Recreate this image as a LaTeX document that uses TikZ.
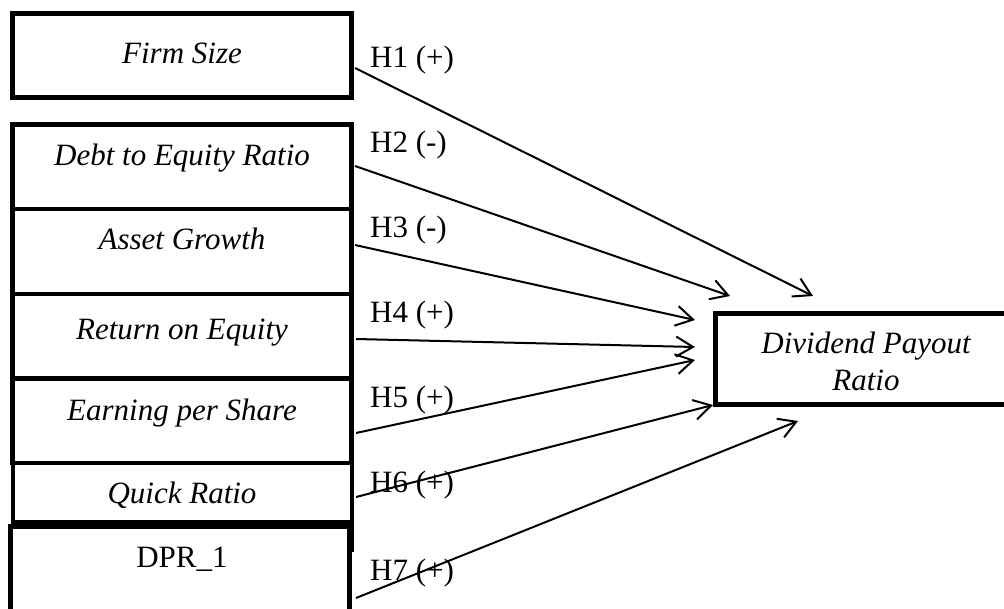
\documentclass[tikz,border=0pt]{standalone}
\usepackage{fontspec}
\setmainfont{Liberation Serif}
\usetikzlibrary{arrows.meta}

\tikzset{
  box/.style={draw=black, line width=4.5pt, fill=white},
  boxtext/.style={anchor=base, inner sep=0pt, font=\fontsize{31}{37}\selectfont\itshape},
  plaintext/.style={anchor=base, inner sep=0pt, font=\fontsize{31}{37}\selectfont},
  hyp/.style={anchor=base west, inner sep=0pt, font=\fontsize{31}{37}\selectfont},
  link/.style={draw=black, line width=2pt, -{Straight Barb[length=17pt,width=20pt,line width=2pt]}}
}

\begin{document}
\begin{tikzpicture}[x=1pt,y=-1pt]
  \useasboundingbox (0,0) rectangle (1004,608);
  \clip (0,0) rectangle (1004,608);

  % independent variables
  \draw[box] (12.3,13.3) rectangle (351.7,97.7);
  \draw[box] (12.3,124.3) rectangle (351.7,209);
  \draw[box] (12.3,209) rectangle (351.7,294);
  \draw[box] (12.3,294) rectangle (351.7,378.5);
  \draw[box] (12.3,378.5) rectangle (351.7,463);
  \draw[box] (12.8,463) rectangle (351.8,522.5);
  \draw[black, line width=4.5pt] (351.8,520) -- (351.8,552);
  \draw[box] (10.5,526.5) rectangle (349.5,650);

  % dependent variable
  \draw[box] (715.5,313.5) rectangle (1030,404.5);

  \node[boxtext] (fs)  at (182,63)  {Firm Size};
  \node[boxtext] (der) at (182,165) {Debt to Equity Ratio};
  \node[boxtext] (ag)  at (182,249) {Asset Growth};
  \node[boxtext] (roe) at (182,339) {Return on Equity};
  \node[boxtext] (eps) at (182,420) {Earning per Share};
  \node[boxtext] (qr)  at (182,503) {Quick Ratio};
  \node[plaintext] (lag) at (182,567) {DPR\_1};
  \node[boxtext] (dpr) at (866,353) {Dividend Payout};
  \node[boxtext] (dprb) at (866,390) {Ratio};

  % connector ends
  \coordinate (s1) at (355,68);
  \coordinate (s2) at (355,166);
  \coordinate (s3) at (355,245);
  \coordinate (s4) at (356,339);
  \coordinate (s5) at (356,433);
  \coordinate (s6) at (356,497);
  \coordinate (s7) at (356,598);
  \coordinate (t1) at (813,296);
  \coordinate (t2) at (730,296);
  \coordinate (t3) at (695,320);
  \coordinate (t4) at (695,347);
  \coordinate (t5) at (695,360);
  \coordinate (t6) at (713,405);
  \coordinate (t7) at (798,421);

  \draw[link] (s1) -- (t1);
  \draw[link] (s2) -- (t2);
  \draw[link] (s3) -- (t3);
  \draw[link] (s4) -- (t4);
  \draw[link] (s5) -- (t5);
  \draw[link] (s6) -- (t6);
  \draw[link] (s7) -- (t7);

  % hypothesis labels
  \node[hyp] (h1) at (370,67)  {H1 (+)};
  \node[hyp] (h2) at (370,152) {H2 (-)};
  \node[hyp] (h3) at (370,237) {H3 (-)};
  \node[hyp] (h4) at (370,322) {H4 (+)};
  \node[hyp] (h5) at (370,407) {H5 (+)};
  \node[hyp] (h6) at (370,492) {H6 (+)};
  \node[hyp] (h7) at (370,580) {H7 (+)};
\end{tikzpicture}
\end{document}
